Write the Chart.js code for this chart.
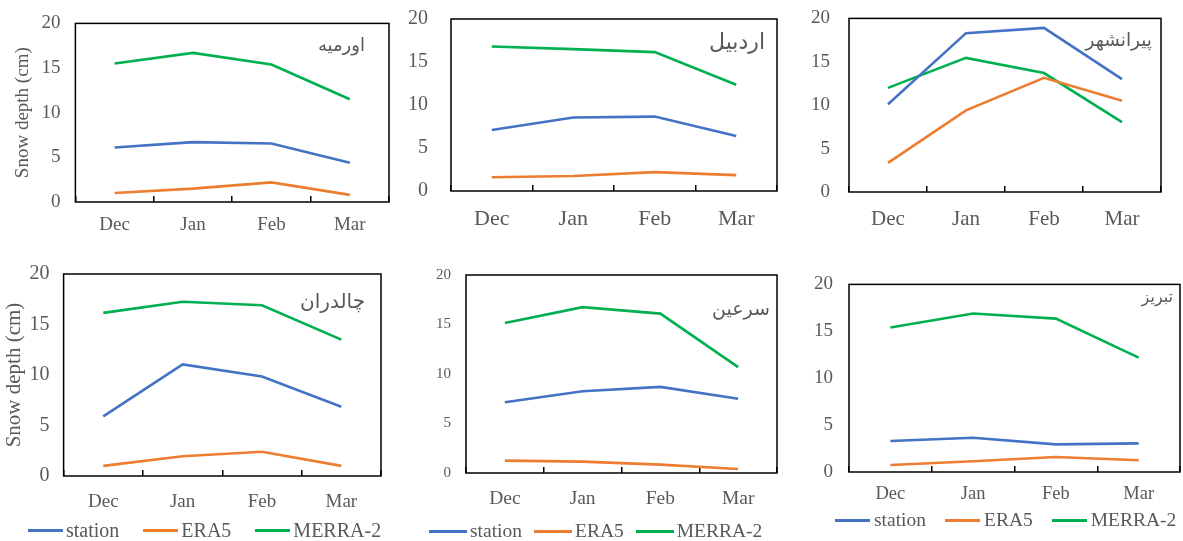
<!DOCTYPE html>
<html lang="en">
<head>
<meta charset="UTF-8">
<title>Snow depth</title>
<script src="https://cdn.jsdelivr.net/npm/chart.js"></script>
<style>
  html, body { margin: 0; padding: 0; background: #fff; }
  body { width: 1183px; height: 541px; position: relative; overflow: hidden;
         font-family: "Liberation Serif", "Times New Roman", serif; color: #595959; }
  .panel { position: absolute; }
  .station-name { position: absolute; direction: rtl; font-family: "DejaVu Sans", sans-serif;
                  color: #595959; white-space: nowrap; line-height: 1; }
  .legend { position: absolute; display: flex; align-items: center; white-space: nowrap; line-height: 1; }
  .legend .item { display: flex; align-items: center; }
  .legend .swatch { height: 3px; }
</style>
</head>
<body>
<script>
// data
const months = ["Dec", "Jan", "Feb", "Mar"];
const seriesNames = ["station", "ERA5", "MERRA-2"];
const seriesColors = ["#4472C4", "#ED7D31", "#00B050"];
const stationNames = ["اورمیه", "اردبیل", "پیرانشهر", "چالدران", "سرعين", "تبریز"];
const yTicks = [0, 5, 10, 15, 20];

const stationValues = [
  [6.1, 6.7, 6.55, 4.4],
  [7.1, 8.55, 8.65, 6.4],
  [10.1, 18.3, 18.9, 13.0],
  [5.9, 11.05, 9.85, 6.85],
  [7.15, 8.25, 8.7, 7.5],
  [3.3, 3.65, 2.95, 3.05]
];
const era5Values = [
  [1.0, 1.5, 2.2, 0.8],
  [1.6, 1.75, 2.2, 1.85],
  [3.35, 9.4, 13.15, 10.5],
  [1.0, 1.95, 2.4, 1.0],
  [1.25, 1.15, 0.85, 0.4],
  [0.75, 1.15, 1.6, 1.25]
];
const merra2Values = [
  [15.5, 16.7, 15.4, 11.5],
  [16.8, 16.5, 16.15, 12.35],
  [12.0, 15.45, 13.7, 8.05],
  [16.15, 17.25, 16.9, 13.5],
  [15.15, 16.75, 16.1, 10.7],
  [15.4, 16.9, 16.35, 12.2]
];

// layout of the six panels (page pixels)
const panels = [
  { box: [75, 23, 389, 202],   yPad: 15, yFont: 19, xFont: 19, xCap: 225,   yTitle: { size: 19, cx: 23 },
    name: { right: 365, cy: 46, size: 18 } },
  { box: [451, 19, 777, 191],  yPad: 23, yFont: 20, xFont: 22, xCap: 219,
    name: { right: 765, cy: 43, size: 22 } },
  { box: [849, 18, 1161, 192], yPad: 19, yFont: 19, xFont: 21, xCap: 219,
    name: { right: 1152, cy: 41, size: 18.5 } },
  { box: [64, 274, 382, 476],  yPad: 14, yFont: 20, xFont: 19, xCap: 501.7, yTitle: { size: 21, cx: 15 },
    name: { right: 365, cy: 302, size: 20 },
    legend: { left: 28, cy: 530, lineW: 35, gap: 3, itemGap: 24, font: 20 } },
  { box: [466, 275, 777, 473], yPad: 15, yFont: 15, xFont: 19.5, xCap: 498.5,
    name: { right: 770, cy: 309, size: 19 },
    legend: { left: 429, cy: 531, lineW: 38, gap: 3, itemGap: 12, font: 19.5 } },
  { box: [849, 284, 1180, 472], yPad: 16, yFont: 19, xFont: 18.5, xCap: 494,
    name: { right: 1173, cy: 298, size: 16 },
    legend: { left: 835, cy: 520, lineW: 35, gap: 4, itemGap: 19, font: 19.5 } }
];

const FONT = '"Liberation Serif", "Times New Roman", serif';
const TEXT = '#595959';
const PAD_R = 3, X_H = 46, TICK_LEN = -6;

const framePlugin = {
  id: 'frame',
  afterDraw(chart) {
    const { ctx, chartArea: a } = chart;
    ctx.save();
    ctx.strokeStyle = '#000';
    ctx.lineWidth = 1.5;
    ctx.strokeRect(a.left, a.top, a.right - a.left, a.bottom - a.top);
    ctx.restore();
  }
};

panels.forEach((p, i) => {
  const [l, t, r, b] = p.box;
  const yW = p.yTitle ? l - (p.yTitle.cx - 0.6 * p.yTitle.size) : 60;
  // the y scale asks for its padding + half a label above the plot
  const padT = p.yPad + 0.6 * p.yFont;
  const w = (r - l) + yW + PAD_R;
  const h = padT + (b - t) + X_H;

  const div = document.createElement('div');
  div.className = 'panel';
  div.style.left = (l - yW) + 'px';
  div.style.top = (t - padT) + 'px';
  div.style.width = w + 'px';
  div.style.height = h + 'px';
  const canvas = document.createElement('canvas');
  canvas.width = w;
  canvas.height = h;
  div.appendChild(canvas);
  document.body.appendChild(div);

  const values = [stationValues[i], era5Values[i], merra2Values[i]];

  new Chart(canvas, {
    type: 'line',
    data: {
      labels: months,
      datasets: seriesNames.map((name, k) => ({
        label: name,
        data: values[k],
        borderColor: seriesColors[k],
        backgroundColor: seriesColors[k],
        borderWidth: 2.6,
        pointRadius: 0,
        tension: 0
      }))
    },
    options: {
      responsive: false,
      animation: false,
      layout: { padding: { top: padT, right: PAD_R, left: 0, bottom: 0 } },
      plugins: { legend: { display: false }, tooltip: { enabled: false } },
      scales: {
        x: {
          offset: true,
          grid: { display: true, offset: true, drawOnChartArea: false, drawTicks: true,
                  tickLength: TICK_LEN, color: '#000', lineWidth: 1.5 },
          border: { display: false },
          ticks: { color: TEXT, font: { family: FONT, size: p.xFont },
                   padding: p.xCap - b - 0.6 * p.xFont - TICK_LEN, maxRotation: 0 },
          afterFit(s) { s.height = X_H; }
        },
        y: {
          min: yTicks[0],
          max: yTicks[yTicks.length - 1],
          grid: { display: false, drawTicks: false },
          border: { display: false },
          ticks: { stepSize: yTicks[1] - yTicks[0], color: TEXT,
                   font: { family: FONT, size: p.yFont }, padding: p.yPad },
          title: p.yTitle ? { display: true, text: 'Snow depth (cm)', color: TEXT,
                   font: { family: FONT, size: p.yTitle.size }, padding: 0 } : { display: false },
          afterFit(s) { s.width = yW; }
        }
      }
    },
    plugins: [framePlugin]
  });

  // station name inside the plot, top right
  const nm = document.createElement('div');
  nm.className = 'station-name';
  nm.textContent = stationNames[i];
  nm.style.fontSize = p.name.size + 'px';
  nm.style.right = (1183 - p.name.right) + 'px';
  nm.style.top = (p.name.cy - 0.55 * p.name.size) + 'px';
  document.body.appendChild(nm);

  // legend under the bottom row
  if (p.legend) {
    const lg = document.createElement('div');
    lg.className = 'legend';
    lg.style.left = p.legend.left + 'px';
    lg.style.top = (p.legend.cy - p.legend.font / 2) + 'px';
    lg.style.height = p.legend.font + 'px';
    lg.style.fontSize = p.legend.font + 'px';
    seriesNames.forEach((name, k) => {
      const item = document.createElement('span');
      item.className = 'item';
      if (k < seriesNames.length - 1) item.style.marginRight = p.legend.itemGap + 'px';
      const sw = document.createElement('span');
      sw.className = 'swatch';
      sw.style.width = p.legend.lineW + 'px';
      sw.style.marginRight = p.legend.gap + 'px';
      sw.style.background = seriesColors[k];
      const tx = document.createElement('span');
      tx.textContent = name;
      item.appendChild(sw);
      item.appendChild(tx);
      lg.appendChild(item);
    });
    document.body.appendChild(lg);
  }
});
</script>
</body>
</html>
